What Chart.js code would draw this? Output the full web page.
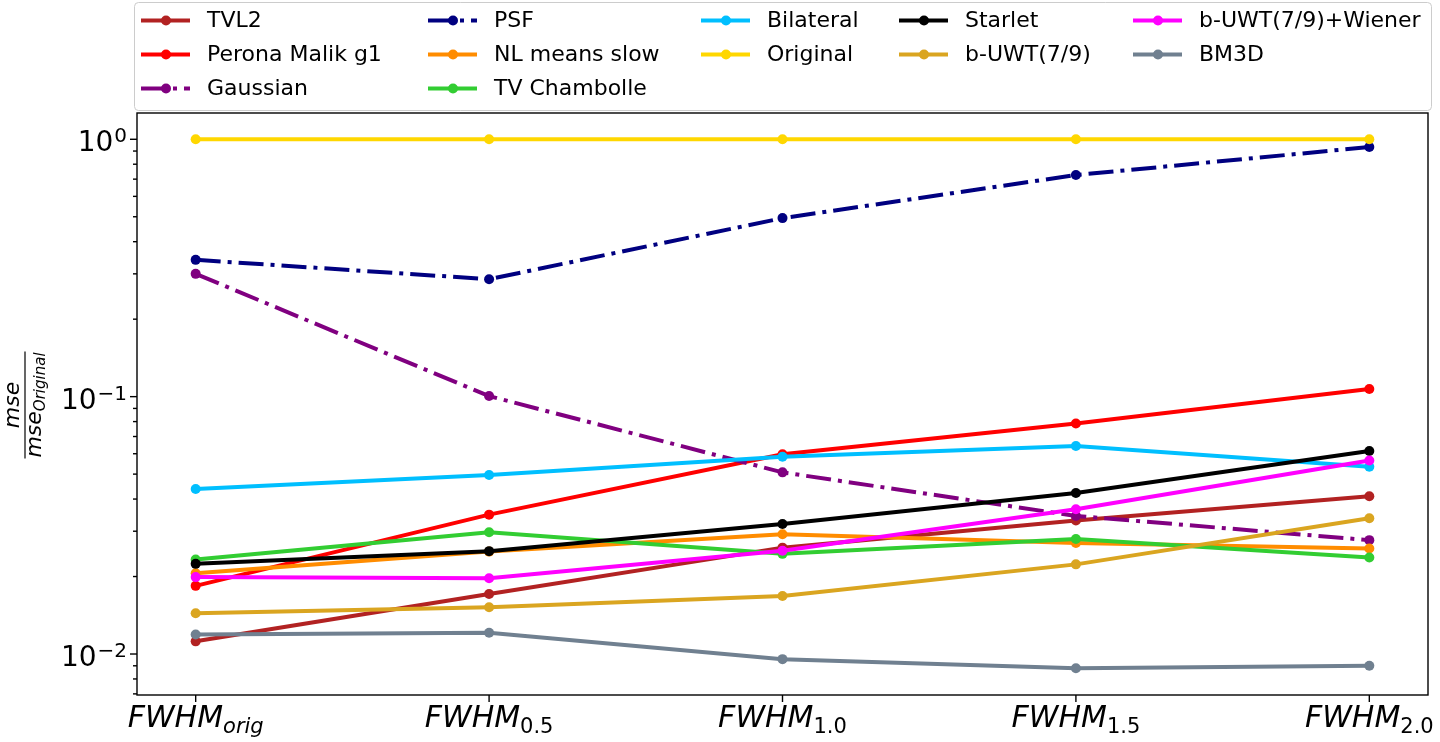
<!DOCTYPE html>
<html>
<head>
<meta charset="utf-8">
<script src="https://cdn.jsdelivr.net/npm/chart.js@4.4.1/dist/chart.umd.min.js"></script>
<style>
    html, body { margin: 0; padding: 0; background: #fff; }
    #wrap { width: 1440px; height: 742px; }
</style>
</head>
<body>
<div id="wrap"><canvas id="mseChart" width="1440" height="742"></canvas></div>
<script>
// Categories (subscripts of FWHM)
const categories = ['orig', '0.5', '1.0', '1.5', '2.0'];

// Y tick labels (log axis, exponents of 10)
const yTickValues = [1, 0.1, 0.01];
const yTickExponents = ['0', '\u22121', '\u22122'];

// Series values (mse / mse_Original)
const tvl2        = [0.0112, 0.0171, 0.0259, 0.0330, 0.0410];
const peronaMalik = [0.0184, 0.0348, 0.0597, 0.0787, 0.1070];
const gaussian    = [0.300, 0.1005, 0.0508, 0.0344, 0.0277];
const psf         = [0.340, 0.286, 0.494, 0.726, 0.933];
const nlMeans     = [0.0206, 0.0250, 0.0292, 0.0270, 0.0257];
const tvChambolle = [0.0233, 0.0297, 0.0245, 0.0280, 0.0237];
const bilateral   = [0.0438, 0.0496, 0.0584, 0.0643, 0.0534];
const original    = [1, 1, 1, 1, 1];
const starlet     = [0.0224, 0.0251, 0.0320, 0.0422, 0.0615];
const buwt        = [0.0144, 0.0152, 0.0168, 0.0223, 0.0337];
const buwtWiener  = [0.0199, 0.0197, 0.0252, 0.0365, 0.0565];
const bm3d        = [0.0119, 0.0121, 0.00955, 0.0088, 0.0090];

const series = [
    { label: 'TVL2',               data: tvl2,        color: '#b22222' },
    { label: 'Perona Malik g1',    data: peronaMalik, color: '#ff0000' },
    { label: 'Gaussian',           data: gaussian,    color: '#800080', dashed: true },
    { label: 'PSF',                data: psf,         color: '#000080', dashed: true },
    { label: 'NL means slow',      data: nlMeans,     color: '#ff8c00' },
    { label: 'TV Chambolle',       data: tvChambolle, color: '#32cd32' },
    { label: 'Bilateral',          data: bilateral,   color: '#00bfff' },
    { label: 'Original',           data: original,    color: '#ffd700' },
    { label: 'Starlet',            data: starlet,     color: '#000000' },
    { label: 'b-UWT(7/9)',         data: buwt,        color: '#daa520' },
    { label: 'b-UWT(7/9)+Wiener',  data: buwtWiener,  color: '#ff00ff' },
    { label: 'BM3D',               data: bm3d,        color: '#708090' }
];

const DASH_DOT = [25, 7, 4, 7];
const FONT = "'DejaVu Sans', sans-serif";

// Matplotlib-like decorations: frame, ticks, mathtext labels, legend
const decorations = {
    id: 'decorations',
    beforeDraw(chart) {
        const ctx = chart.ctx;
        ctx.save();
        ctx.fillStyle = '#fff';
        ctx.fillRect(0, 0, chart.width, chart.height);
        ctx.restore();
    },
    afterDraw(chart) {
        const ctx = chart.ctx;
        const area = chart.chartArea;
        const xs = chart.scales.x;
        const ys = chart.scales.y;
        ctx.save();
        ctx.strokeStyle = '#000';
        ctx.fillStyle = '#000';
        ctx.lineWidth = 1.4;

        // frame
        ctx.strokeRect(area.left, area.top, area.right - area.left, area.bottom - area.top);

        // x ticks + labels
        ctx.textBaseline = 'alphabetic';
        categories.forEach(function(sub, i) {
            const x = xs.getPixelForValue(i);
            ctx.beginPath();
            ctx.moveTo(x, area.bottom);
            ctx.lineTo(x, area.bottom + 7);
            ctx.stroke();

            ctx.font = 'italic 30px ' + FONT;
            const mainW = ctx.measureText('FWHM').width;
            const subFont = (sub === 'orig' ? 'italic ' : '') + '21px ' + FONT;
            ctx.font = subFont;
            const subW = ctx.measureText(sub).width;
            const x0 = x - (mainW + subW) / 2;
            ctx.font = 'italic 30px ' + FONT;
            ctx.textAlign = 'left';
            ctx.fillText('FWHM', x0, 727);
            ctx.font = subFont;
            ctx.fillText(sub, x0 + mainW, 733);
        });

        // y minor ticks
        const yMin = ys.min, yMax = ys.max;
        for (let e = -3; e <= 0; e++) {
            for (let m = 2; m <= 9; m++) {
                const v = m * Math.pow(10, e);
                if (v < yMin || v > yMax) continue;
                const y = ys.getPixelForValue(v);
                ctx.beginPath();
                ctx.moveTo(area.left, y);
                ctx.lineTo(area.left - 4, y);
                ctx.stroke();
            }
        }

        // y major ticks + labels
        yTickValues.forEach(function(v, i) {
            const y = ys.getPixelForValue(v);
            ctx.beginPath();
            ctx.moveTo(area.left, y);
            ctx.lineTo(area.left - 7, y);
            ctx.stroke();

            ctx.font = '20px ' + FONT;
            const supW = ctx.measureText(yTickExponents[i]).width;
            ctx.font = '28px ' + FONT;
            const baseW = ctx.measureText('10').width;
            const right = 127;
            ctx.textAlign = 'left';
            ctx.fillText('10', right - supW - baseW - 1, y + 12);
            ctx.font = '20px ' + FONT;
            ctx.fillText(yTickExponents[i], right - supW, y + 3);
        });

        // y axis title: mse / mse_Original (rotated)
        ctx.save();
        ctx.translate(25, 405);
        ctx.rotate(-Math.PI / 2);
        ctx.font = 'italic 22px ' + FONT;
        const denMain = ctx.measureText('mse').width;
        ctx.font = 'italic 15px ' + FONT;
        const denSub = ctx.measureText('Original').width;
        const denW = denMain + denSub;
        ctx.lineWidth = 1.2;
        ctx.beginPath();
        ctx.moveTo(-denW / 2 - 1, 0);
        ctx.lineTo(denW / 2 + 1, 0);
        ctx.stroke();
        ctx.font = 'italic 22px ' + FONT;
        ctx.textAlign = 'center';
        ctx.fillText('mse', 0, -6);
        ctx.textAlign = 'left';
        ctx.fillText('mse', -denW / 2, 16);
        ctx.font = 'italic 15px ' + FONT;
        ctx.fillText('Original', -denW / 2 + denMain, 20);
        ctx.restore();

        // legend (column-major, 5 columns)
        ctx.fillStyle = 'rgba(255,255,255,0.8)';
        ctx.strokeStyle = '#cccccc';
        ctx.lineWidth = 1;
        ctx.beginPath();
        ctx.roundRect(134.5, 2.5, 1297, 108, 4);
        ctx.fill();
        ctx.stroke();

        const colStarts = [0, 3, 6, 8, 10];
        const colX = [141, 428, 701, 899, 1133];
        const rowY = [20.5, 54.5, 88.5];
        series.forEach(function(s, i) {
            let col = 0;
            for (let c = 0; c < colStarts.length; c++) if (i >= colStarts[c]) col = c;
            const row = i - colStarts[col];
            const x = colX[col], y = rowY[row];
            ctx.strokeStyle = s.color;
            ctx.fillStyle = s.color;
            ctx.lineWidth = 4;
            ctx.setLineDash(s.dashed ? DASH_DOT : []);
            ctx.beginPath();
            ctx.moveTo(x, y);
            ctx.lineTo(x + 49, y);
            ctx.stroke();
            ctx.setLineDash([]);
            ctx.beginPath();
            ctx.arc(x + 25, y, 5, 0, Math.PI * 2);
            ctx.fill();
            ctx.fillStyle = '#000';
            ctx.font = '22px ' + FONT;
            ctx.textAlign = 'left';
            ctx.textBaseline = 'middle';
            ctx.fillText(s.label, x + 66, y + 1);
            ctx.textBaseline = 'alphabetic';
        });
        ctx.restore();
    }
};

const ctx = document.getElementById('mseChart').getContext('2d');
const myChart = new Chart(ctx, {
    type: 'line',
    data: {
        datasets: series.map(function(s, i) {
            return {
                label: s.label,
                data: s.data.map(function(v, j) { return { x: j, y: v }; }),
                borderColor: s.color,
                backgroundColor: s.color,
                pointBackgroundColor: s.color,
                pointBorderColor: s.color,
                borderWidth: 4,
                pointRadius: 5,
                pointBorderWidth: 0,
                borderDash: s.dashed ? DASH_DOT : [],
                fill: false,
                tension: 0,
                order: series.length - i
            };
        })
    },
    options: {
        responsive: false,
        animation: false,
        devicePixelRatio: 1,
        layout: {
            padding: { top: 113, right: 12, left: 0, bottom: 0 }
        },
        plugins: {
            legend: { display: false },
            tooltip: { enabled: false }
        },
        scales: {
            x: {
                type: 'linear',
                min: -0.2,
                max: 4.2,
                grid: { display: false },
                border: { display: false },
                ticks: { display: false },
                afterFit: function(scale) { scale.height = 47; }
            },
            y: {
                type: 'logarithmic',
                min: 0.00693,
                max: 1.265,
                grid: { display: false },
                border: { display: false },
                ticks: { display: false },
                afterFit: function(scale) { scale.width = 137; }
            }
        }
    },
    plugins: [decorations]
});
</script>
</body>
</html>
